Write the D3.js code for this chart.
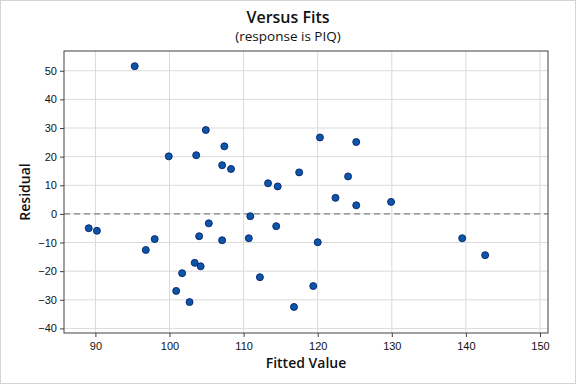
<!DOCTYPE html>
<html>
<head>
<meta charset="utf-8">
<script src="https://cdn.jsdelivr.net/npm/d3@7"></script>
<style>
  body { margin: 0; background: #fff; }
  svg { display: block; font-family: "Open Sans", "Noto Sans", sans-serif; }
</style>
</head>
<body>
<script>
// Fitted values and residuals.
const fitted = [
  89.1, 90.2, 95.3, 99.9, 103.6, 104.9, 107.4, 107.1, 108.3,
  96.8, 98.0, 100.9, 101.7, 102.7, 103.4, 104.2, 104.0, 105.3, 107.1, 110.7, 110.9,
  120.3, 125.2, 117.5, 113.3, 114.6, 124.1, 122.4, 125.2, 129.9,
  114.4, 120.0, 112.2, 119.4, 116.8, 139.5, 142.6
];
const residuals = [
  -5.0, -5.9, 51.6, 20.1, 20.5, 29.3, 23.6, 17.0, 15.7,
  -12.6, -8.8, -26.9, -20.7, -30.8, -17.1, -18.3, -7.8, -3.3, -9.2, -8.5, -0.8,
  26.7, 25.1, 14.5, 10.7, 9.6, 13.1, 5.6, 3.0, 4.2,
  -4.3, -9.9, -22.1, -25.2, -32.5, -8.5, -14.4
];
const xTicks = [90, 100, 110, 120, 130, 140, 150];
const yTicks = [-40, -30, -20, -10, 0, 10, 20, 30, 40, 50];

const width = 576;
const height = 384;
const marginTop = 51;
const marginRight = 28;
const marginBottom = 51;
const marginLeft = 64;

const data = fitted.map((f, i) => ({ fit: f, res: residuals[i] }));

const x = d3.scaleLinear([85.76, 151.08], [marginLeft, width - marginRight]);
const y = d3.scaleLinear([-41.6, 56.9], [height - marginBottom, marginTop]);

const svg = d3.select("body").append("svg")
  .attr("width", width)
  .attr("height", height)
  .attr("viewBox", [0, 0, width, height]);

// Outer light border
svg.append("rect")
  .attr("x", 0.5).attr("y", 0.5)
  .attr("width", width - 1).attr("height", height - 1)
  .attr("fill", "#fff").attr("stroke", "#d4d4d4");

// Grid lines
svg.append("g")
  .attr("stroke", "#dadada")
  .selectAll("line.v")
  .data(xTicks)
  .join("line")
  .attr("x1", (d) => x(d)).attr("x2", (d) => x(d))
  .attr("y1", marginTop).attr("y2", height - marginBottom);

svg.append("g")
  .attr("stroke", "#dadada")
  .selectAll("line.h")
  .data(yTicks)
  .join("line")
  .attr("x1", marginLeft).attr("x2", width - marginRight)
  .attr("y1", (d) => y(d)).attr("y2", (d) => y(d));

// Zero reference line
svg.append("line")
  .attr("x1", marginLeft).attr("x2", width - marginRight)
  .attr("y1", y(0)).attr("y2", y(0))
  .attr("stroke", "#6b6b6b")
  .attr("stroke-dasharray", "6,4");

// Axes
svg.append("g")
  .attr("transform", `translate(0,${height - marginBottom})`)
  .call(d3.axisBottom(x).tickValues(xTicks).tickSize(4).tickSizeOuter(0))
  .call((g) => g.select(".domain").remove())
  .call((g) => g.selectAll(".tick line").attr("stroke", "#404040"))
  .call((g) => g.selectAll(".tick text").attr("font-size", 11).attr("fill", "#111").attr("dy", "0.9em"));

svg.append("g")
  .attr("transform", `translate(${marginLeft},0)`)
  .call(d3.axisLeft(y).tickValues(yTicks).tickSize(4).tickSizeOuter(0))
  .call((g) => g.select(".domain").remove())
  .call((g) => g.selectAll(".tick line").attr("stroke", "#404040"))
  .call((g) => g.selectAll(".tick text").attr("font-size", 11).attr("fill", "#111"));

// Plot frame
svg.append("rect")
  .attr("x", marginLeft).attr("y", marginTop)
  .attr("width", width - marginLeft - marginRight)
  .attr("height", height - marginTop - marginBottom)
  .attr("fill", "none")
  .attr("stroke", "#404040");

// Points
svg.append("g")
  .selectAll("circle")
  .data(data)
  .join("circle")
  .attr("cx", (d) => x(d.fit))
  .attr("cy", (d) => y(d.res))
  .attr("r", 3.5)
  .attr("fill", "#0c56aa")
  .attr("stroke", "#06206b")
  .attr("stroke-width", 0.9);

// Titles
svg.append("text")
  .attr("x", width / 2).attr("y", 23)
  .attr("text-anchor", "middle")
  .attr("font-size", 16).attr("font-weight", 600).attr("fill", "#111")
  .text("Versus Fits");

svg.append("text")
  .attr("x", width / 2).attr("y", 41)
  .attr("text-anchor", "middle")
  .attr("font-size", 13.5).attr("fill", "#111")
  .text("(response is PIQ)");

svg.append("text")
  .attr("x", (marginLeft + width - marginRight) / 2).attr("y", 368)
  .attr("text-anchor", "middle")
  .attr("font-size", 14).attr("font-weight", 600).attr("fill", "#111")
  .text("Fitted Value");

svg.append("text")
  .attr("transform", `translate(30,${(marginTop + height - marginBottom) / 2}) rotate(-90)`)
  .attr("text-anchor", "middle")
  .attr("font-size", 14).attr("font-weight", 600).attr("fill", "#111")
  .text("Residual");
</script>
</body>
</html>
